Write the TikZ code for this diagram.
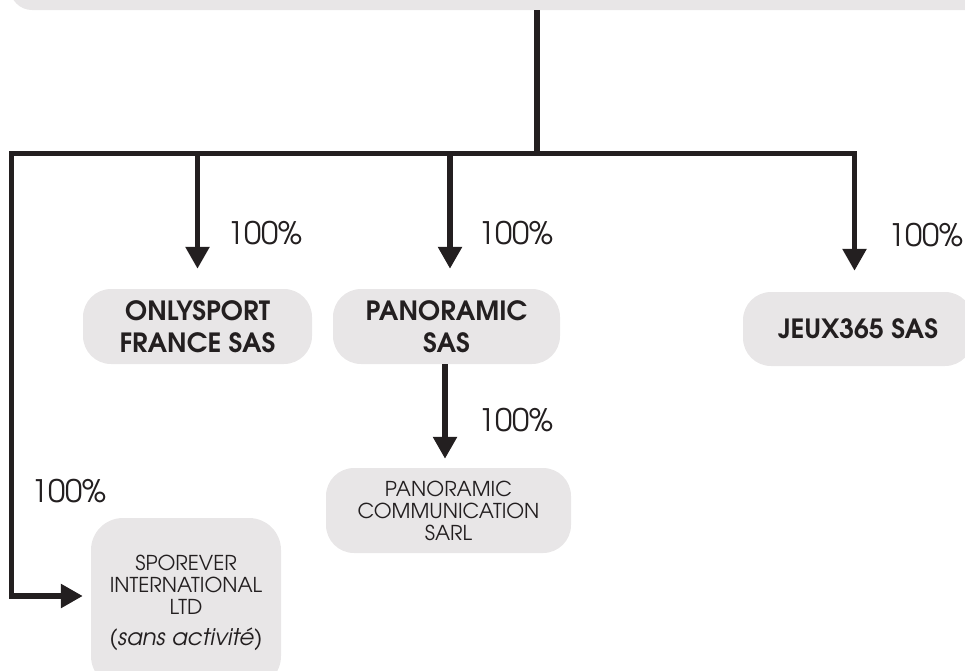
\documentclass[tikz,border=0pt]{standalone}
\usepackage{fontspec}
\setmainfont{TeX Gyre Adventor}
\usetikzlibrary{arrows.meta}
\definecolor{ink}{HTML}{231F20}
\definecolor{boxgray}{HTML}{E8E6E7}
\begin{document}
\begin{tikzpicture}[x=1pt,y=-1pt,
  line/.style={draw=ink,line width=5.5pt},
  arr/.style={line,-{Triangle[width=23pt,length=22pt]}},
  box/.style={fill=boxgray,rounded corners=28pt,inner sep=0pt,align=center,text=ink},
  pct/.style={font=\fontsize{31}{31}\selectfont,text=ink,inner sep=0pt,anchor=west},
  boldtxt/.style={font=\fontsize{26.5}{32.5}\selectfont\bfseries},
  smalltxt/.style={font=\fontsize{20.5}{22}\selectfont}]
\useasboundingbox (0,0) rectangle (965,670);
% boxes
\node[box,rounded corners=22pt,minimum width=1000pt,minimum height=50pt] (top) at (510,-15) {};
\node[box,boldtxt,minimum width=229pt,minimum height=75pt] (only) at (197.5,326.5) {ONLYSPORT\\FRANCE SAS};
\node[box,boldtxt,minimum width=227pt,minimum height=75pt] (pan) at (446.5,326.5) {PANORAMIC\\SAS};
\node[box,boldtxt,minimum width=230pt,minimum height=74pt] (jeux) at (858,329) {JEUX365 SAS};
\node[box,smalltxt,minimum width=245pt,minimum height=85pt] (pcs) at (448.5,510.5) {PANORAMIC\\COMMUNICATION\\SARL};
\node[box,smalltxt,minimum width=190pt,minimum height=170pt,rounded corners=32pt] (spo) at (186,603)
  {SPOREVER\\INTERNATIONAL\\LTD\\[9pt]{\fontsize{23}{23}\selectfont\itshape (sans activité)}};
% bus
\coordinate (hub) at (537,153.5);
\coordinate (busL) at (11.5,153.5);
\coordinate (busR) at (854.5,153.5);
\draw[line] (top.south -| hub) -- (hub);
\draw[line,line cap=rect] (busL) -- (busR);
% arrows
\draw[arr] (only.north |- busL) -- ([yshift=20pt]only.north);
\draw[arr] ([xshift=3.5pt]pan.north |- busL) -- ([xshift=3.5pt,yshift=20pt]pan.north);
\draw[arr] ([xshift=-3.5pt]jeux.north |- busR) -- ([xshift=-3.5pt,yshift=21pt]jeux.north);
\draw[arr] ([xshift=-1.5pt]pan.south) -- ([xshift=-3.5pt,yshift=9pt]pcs.north);
\draw[arr] (busL) |- ([xshift=-8pt,yshift=7pt]spo.west);
% labels
\node[pct] (p1) at (227,233.5) {100\%};
\node[pct] (p2) at (478,233.5) {100\%};
\node[pct] (p3) at (888,235) {100\%};
\node[pct] (p4) at (478,420.5) {100\%};
\node[pct] (p5) at (31,491) {100\%};
\end{tikzpicture}
\end{document}
